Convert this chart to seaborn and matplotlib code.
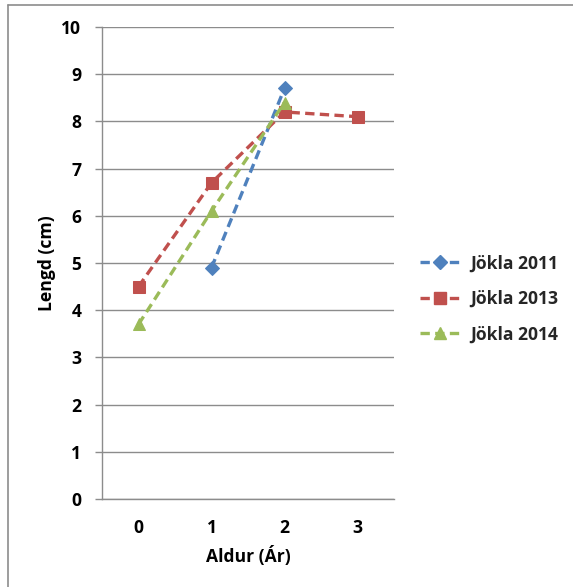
import matplotlib
matplotlib.use("Agg")
import matplotlib.pyplot as plt
from matplotlib.lines import Line2D
import pandas as pd
import seaborn as sns

# Mean length by age group for each sampling year
ages = [0, 1, 2, 3]
age_labels = ["0", "1", "2", "3"]
series_names = ["Jökla 2011", "Jökla 2013", "Jökla 2014"]
len_2011 = [None, 4.9, 8.7, None]
len_2013 = [4.5, 6.7, 8.2, 8.1]
len_2014 = [3.7, 6.1, 8.4, None]
y_ticks = list(range(0, 11))

colors = ["#4F81BD", "#C0504D", "#9BBB59"]
markers = ["D", "s", "^"]
marker_sizes = [7.5, 9, 9]

rows = []
for name, vals in zip(series_names, [len_2011, len_2013, len_2014]):
    for a, v in zip(ages, vals):
        if v is not None:
            rows.append({"Aldur": a, "Lengd": v, "Series": name})
df = pd.DataFrame(rows)

sns.set_theme(style="white")
FONT = ["Open Sans", "DejaVu Sans"]
plt.rcParams["font.family"] = FONT
plt.rcParams["font.weight"] = "bold"
FS = 12.6

fig = plt.figure(figsize=(5.73, 5.87), dpi=100)
ax = fig.add_axes([102 / 573, 1 - 499 / 587, (394 - 102) / 573, (499 - 27) / 587])

for name, c, m, ms in zip(series_names, colors, markers, marker_sizes):
    sub = df[df["Series"] == name]
    sns.lineplot(data=sub, x="Aldur", y="Lengd", ax=ax, color=c, lw=2.4,
                 marker=m, markersize=ms, markeredgecolor=c, markerfacecolor=c,
                 linestyle=(0, (2.8, 1.6)), label=None, legend=False)

ax.set_xlim(-0.5, 3.5)
ax.set_ylim(0, 10)
ax.set_xticks(ages)
ax.set_xticklabels(age_labels)
ax.set_yticks(y_ticks)
ax.set_yticklabels([str(t) for t in y_ticks])

grid_c = "#8C8C8C"
ax.yaxis.grid(True, color=grid_c, lw=1.0)
ax.xaxis.grid(False)
ax.set_axisbelow(True)
for s in ["top", "right"]:
    ax.spines[s].set_visible(False)
for s in ["left", "bottom"]:
    ax.spines[s].set_color(grid_c)
    ax.spines[s].set_linewidth(1.0)

ax.tick_params(axis="y", which="both", left=True, length=5, width=1.0,
               color=grid_c, pad=10, labelsize=FS, labelcolor="black")
ax.tick_params(axis="x", which="both", bottom=False, length=0, pad=14.5,
               labelsize=FS, labelcolor="black")
for lab in ax.get_xticklabels() + ax.get_yticklabels():
    lab.set_fontweight("bold")

ax.set_xlabel("Aldur (Ár)", fontsize=FS, fontweight="bold", labelpad=6.5, color="black")
ax.set_ylabel("Lengd (cm)", fontsize=FS, fontweight="bold", labelpad=4, color="black")

handles = [Line2D([0], [0], color=c, lw=2.4, linestyle=(0, (2.8, 1.6)),
                  marker=m, markersize=ms, markerfacecolor=c, markeredgecolor=c)
           for c, m, ms in zip(colors, markers, marker_sizes)]
fig.legend(handles, series_names, loc="center left",
           bbox_to_anchor=(404 / 573, 1 - 299 / 587), frameon=False,
           prop={"family": FONT, "weight": "bold", "size": FS},
           handlelength=2.35, labelspacing=1.0, handletextpad=0.55)

# Outer chart border along the top and left edges
fig.add_artist(Line2D([8 / 573, 1], [1 - 5 / 587, 1 - 5 / 587],
                      transform=fig.transFigure, color="#8C8C8C", lw=1.2))
fig.add_artist(Line2D([8 / 573, 8 / 573], [0, 1 - 5 / 587],
                      transform=fig.transFigure, color="#8C8C8C", lw=1.2))

fig.savefig("out.png", dpi=100, facecolor="white")
